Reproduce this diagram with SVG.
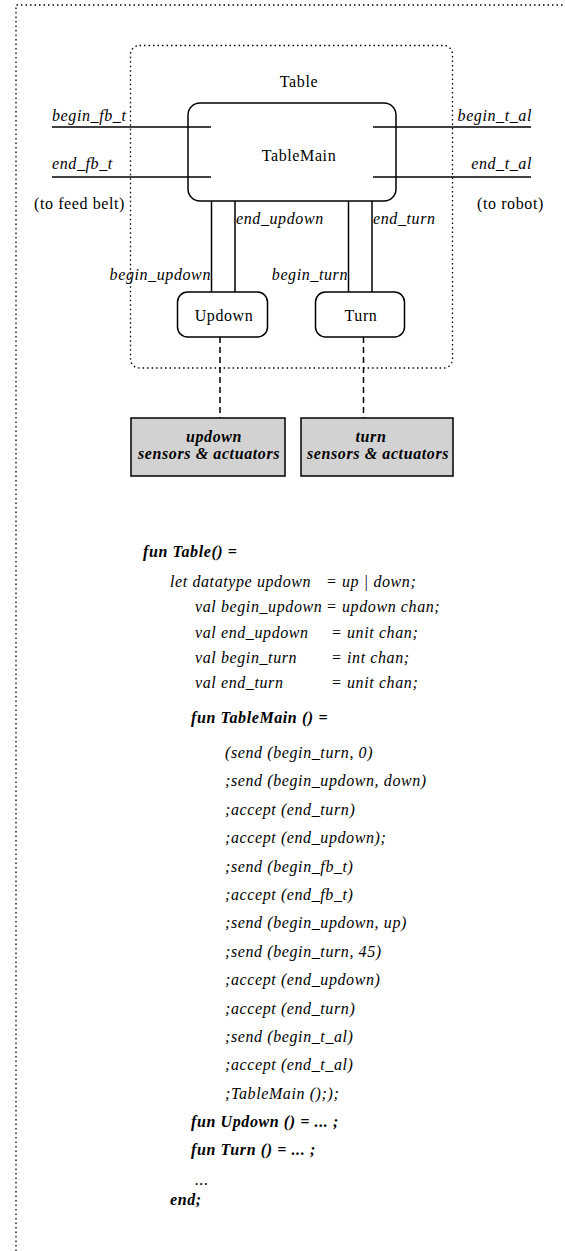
<svg xmlns="http://www.w3.org/2000/svg" width="565" height="1251" viewBox="0 0 565 1251">
<style>
text{font-family:"Liberation Serif","Times New Roman",serif;font-size:16px;fill:#000;letter-spacing:0.6px}
.it{font-style:italic}
.bi{font-style:italic;font-weight:bold}
.mid{text-anchor:middle}
.end{text-anchor:end}
.ln{stroke:#000;stroke-width:1.5;fill:none}
.box{stroke:#000;stroke-width:1.5;fill:#fff}
.dot{stroke:#000;stroke-width:1.3;fill:none;stroke-dasharray:1.5 3}
.dash{stroke:#000;stroke-width:1.5;fill:none;stroke-dasharray:6 4}
.gray{stroke:#000;stroke-width:1.5;fill:#d2d2d2}
.code{font-style:italic;font-size:16px}
.codeb{font-style:italic;font-weight:bold;font-size:16px}
</style>
<rect width="565" height="1251" fill="#fff"/>
<g id="frame">
<path class="dot" d="M16 1251 V5 H565"/>
</g>
<g id="table">
<rect class="dot" x="130.5" y="45.5" width="322" height="322.5" rx="9"/>
<text class="mid" x="299" y="87">Table</text>
</g>
<g id="connectors">
<line class="ln" x1="52" y1="127" x2="211" y2="127"/>
<line class="ln" x1="52" y1="177" x2="211" y2="177"/>
<line class="ln" x1="373" y1="127" x2="531" y2="127"/>
<line class="ln" x1="373" y1="177" x2="531" y2="177"/>
<line class="ln" x1="211.5" y1="201" x2="211.5" y2="292"/>
<line class="ln" x1="235" y1="201" x2="235" y2="292"/>
<line class="ln" x1="348.5" y1="201" x2="348.5" y2="292"/>
<line class="ln" x1="372" y1="201" x2="372" y2="292"/>
<line class="dash" x1="220" y1="337" x2="220" y2="418"/>
<line class="dash" x1="363.5" y1="337" x2="363.5" y2="418"/>
<text class="it" x="52" y="121">begin_fb_t</text>
<text class="it" x="52" y="169">end_fb_t</text>
<text class="it end" x="532" y="121">begin_t_al</text>
<text class="it end" x="532" y="169">end_t_al</text>
<text x="34" y="209">(to feed belt)</text>
<text x="477" y="209">(to robot)</text>
<text class="it" x="236" y="224">end_updown</text>
<text class="it" x="373" y="224">end_turn</text>
<text class="it end" x="211" y="280">begin_updown</text>
<text class="it end" x="348" y="280">begin_turn</text>
</g>
<g id="tablemain">
<rect class="ln" x="188" y="103" width="208" height="98" rx="12"/>
<text class="mid" x="299" y="161">TableMain</text>
</g>
<g id="updown">
<rect class="box" x="177.5" y="292" width="90" height="45" rx="10"/>
<text class="mid" x="224" y="321">Updown</text>
</g>
<g id="turn">
<rect class="box" x="315.5" y="292" width="89" height="45" rx="10"/>
<text class="mid" x="361" y="321">Turn</text>
</g>
<g id="updown-io">
<rect class="gray" x="131" y="418" width="154" height="58"/>
<text class="bi mid" x="214" y="442">updown</text>
<text class="bi mid" x="209" y="459">sensors &amp; actuators</text>
</g>
<g id="turn-io">
<rect class="gray" x="301" y="418" width="152" height="58"/>
<text class="bi mid" x="371" y="442">turn</text>
<text class="bi mid" x="378" y="459">sensors &amp; actuators</text>
</g>
<g id="code">
<text class="codeb" x="143" y="557">fun Table() =</text>
<text class="code" x="170" y="587">let datatype updown</text>
<text class="code" x="326" y="587">= up | down;</text>
<text class="code" x="195" y="612">val begin_updown</text>
<text class="code" x="326" y="612">= updown chan;</text>
<text class="code" x="195" y="637.5">val end_updown</text>
<text class="code" x="331" y="637.5">= unit chan;</text>
<text class="code" x="195" y="663">val begin_turn</text>
<text class="code" x="331" y="663">= int chan;</text>
<text class="code" x="195" y="688">val end_turn</text>
<text class="code" x="331" y="688">= unit chan;</text>
<text class="codeb" x="191" y="723">fun TableMain () =</text>
<text class="code" x="225" y="758">(send (begin_turn, 0)</text>
<text class="code" x="225" y="786.4">;send (begin_updown, down)</text>
<text class="code" x="225" y="814.8">;accept (end_turn)</text>
<text class="code" x="225" y="843.2">;accept (end_updown);</text>
<text class="code" x="225" y="871.6">;send (begin_fb_t)</text>
<text class="code" x="225" y="900">;accept (end_fb_t)</text>
<text class="code" x="225" y="928.4">;send (begin_updown, up)</text>
<text class="code" x="225" y="956.8">;send (begin_turn, 45)</text>
<text class="code" x="225" y="985.2">;accept (end_updown)</text>
<text class="code" x="225" y="1013.6">;accept (end_turn)</text>
<text class="code" x="225" y="1042">;send (begin_t_al)</text>
<text class="code" x="225" y="1070.4">;accept (end_t_al)</text>
<text class="code" x="225" y="1098.8">;TableMain (););</text>
<text class="codeb" x="191" y="1127">fun Updown () = ... ;</text>
<text class="codeb" x="191" y="1155">fun Turn () = ... ;</text>
<text class="code" x="195" y="1185">...</text>
<text class="codeb" x="170" y="1205">end;</text>
</g>
</svg>
